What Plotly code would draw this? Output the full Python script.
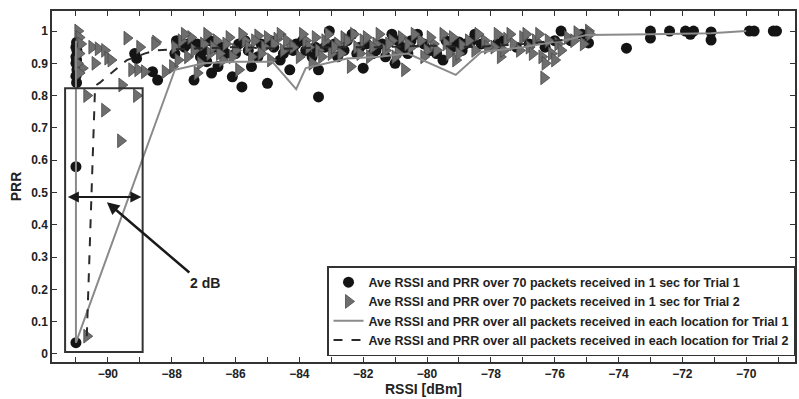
import plotly.graph_objects as go

# ---------------- data ----------------
t1_x = [-91.0, -91.0, -90.98, -91.0, -90.97, -91.0, -90.98, -91.0, -90.97, -91.0, -90.98,
        -89.16, -89.1, -88.6, -88.44, -87.85, -87.6, -87.3, -87.2, -87.0, -86.9, -86.75,
        -86.6, -86.55, -86.3, -86.1, -85.9, -85.8, -85.6, -85.5, -85.2, -85.0, -84.8,
        -84.5, -84.3, -84.1, -83.8, -83.5, -83.4, -83.4, -83.06, -82.9, -82.9, -82.6,
        -82.35, -82.1, -82.0, -81.7, -81.4, -81.1, -81.0, -80.8, -80.5, -80.3, -79.9,
        -79.5, -79.2, -79.0, -78.8, -78.6, -78.5, -77.8, -76.3, -75.8, -75.5, -75.15,
        -74.94, -73.75, -73.0, -73.0, -72.4, -71.9, -71.75, -71.65, -71.1, -71.1,
        -69.9, -69.75, -69.15, -69.05,
        -87.9, -87.5, -87.1, -86.8, -86.4, -86.0, -85.7, -85.3, -84.9, -84.6, -84.2,
        -83.9, -83.6, -83.2, -82.8, -82.5, -82.2, -81.9, -81.6, -81.3, -80.9, -80.6,
        -80.1, -79.7, -79.4, -78.9, -78.3, -77.6, -77.2, -76.8, -76.0]
t1_y = [0.035, 0.58, 0.84, 0.86, 0.88, 0.90, 0.91, 0.92, 0.94, 0.95, 0.965,
        0.93, 0.915, 0.874, 0.848, 0.97, 0.95, 0.848, 0.96, 0.94, 0.905, 0.87,
        0.95, 0.89, 0.93, 0.858, 0.96, 0.827, 0.94, 0.89, 0.96, 0.838, 0.95,
        0.93, 0.88, 0.96, 0.94, 0.95, 0.88, 0.796, 1.0, 0.96, 0.214, 0.94,
        0.99, 0.95, 0.885, 0.93, 0.96, 0.99, 0.90, 0.95, 0.97, 0.99, 0.94,
        0.91, 0.95, 0.966, 0.96, 0.97, 0.99, 0.96, 0.95, 1.0, 0.97, 0.99,
        0.963, 0.947, 1.0, 0.978, 1.0, 1.0, 0.99, 1.0, 0.997, 0.972,
        1.0, 1.0, 1.0, 1.0,
        0.93, 0.96, 0.92, 0.97, 0.95, 0.93, 0.97, 0.92, 0.97, 0.91, 0.94,
        0.97, 0.92, 0.95, 0.92, 0.97, 0.93, 0.96, 0.94, 0.92, 0.97, 0.93,
        0.96, 0.93, 0.97, 0.94, 0.96, 0.97, 0.95, 0.96, 0.97]

t2_x = [-90.94, -90.9, -90.85, -90.9, -90.8, -90.95, -90.9, -90.5, -90.3, -90.1, -90.0,
        -89.9, -90.4, -90.66, -90.1, -89.6, -89.56, -89.4, -89.0, -88.5, -88.53, -89.25,
        -89.06, -88.85, -89.1, -88.2, -87.97, -90.66,
        -87.9, -87.7, -87.5, -87.4, -87.1, -87.0, -86.8, -86.6, -86.4, -86.2, -86.0,
        -85.9, -85.7, -85.5, -85.3, -85.1, -84.9, -84.7, -84.5, -84.3, -84.0, -83.8,
        -83.6, -83.4, -83.2, -83.0, -82.8, -82.6, -82.4, -82.2, -82.0, -81.8, -81.6,
        -81.3, -81.1, -80.9, -80.7, -80.5, -80.2, -80.0, -79.8, -79.5, -79.3, -79.1,
        -78.9, -78.5, -78.2, -77.9, -77.7, -77.5, -77.3, -77.0, -76.8, -76.6, -76.4,
        -76.3, -76.34, -76.1, -75.9, -75.6, -75.3, -74.94, -74.9,
        -87.8, -87.6, -87.3, -87.2, -86.9, -86.7, -86.5, -86.3, -86.1, -85.8, -85.6,
        -85.4, -85.2, -85.0, -84.8, -84.6, -84.4, -84.2, -83.9, -83.7, -83.5, -83.3,
        -83.1, -82.9, -82.7, -82.5, -82.3, -82.1, -81.9, -81.7, -81.5, -81.2, -81.0,
        -80.8, -80.6, -80.4, -80.1, -79.9, -79.7, -79.4, -79.2, -79.0, -78.7, -78.4,
        -78.1, -77.8, -77.6, -77.4, -77.1, -76.9, -76.7, -76.5, -76.2, -76.0, -75.8,
        -75.4, -75.1]
t2_y = [1.0, 0.98, 0.96, 0.93, 0.885, 0.90, 0.87, 0.95, 0.945, 0.94, 0.916,
        0.91, 0.90, 0.80, 0.755, 0.66, 0.833, 0.978, 0.95, 0.966, 0.96, 0.88,
        0.88, 0.874, 0.80, 0.874, 0.89, 0.055,
        0.95, 0.97, 0.92, 0.98, 0.90, 0.96, 0.93, 0.97, 0.91, 0.98, 0.94,
        0.88, 0.97, 0.92, 0.985, 0.95, 0.91, 0.975, 0.94, 0.96, 0.92, 0.97,
        0.90, 0.94, 0.97, 0.93, 0.96, 0.98, 0.89, 0.95, 0.97, 0.92, 0.96,
        0.94, 0.97, 0.93, 0.88, 0.95, 0.97, 0.94, 0.96, 0.99, 0.93, 0.91,
        0.955, 0.94, 0.97, 0.95, 0.92, 0.975, 0.96, 0.98, 0.95, 0.97, 0.92,
        0.90, 0.855, 0.93, 0.96, 0.98, 0.995, 1.0, 0.99,
        0.91, 0.99, 0.94, 0.87, 0.99, 0.95, 0.93, 0.96, 0.92, 0.99, 0.95,
        0.97, 0.93, 0.98, 0.96, 0.99, 0.97, 0.95, 0.99, 0.95, 0.98, 0.92,
        0.99, 0.95, 0.93, 0.97, 0.99, 0.93, 0.98, 0.95, 0.99, 0.96, 0.92,
        0.98, 0.96, 0.99, 0.92, 0.98, 0.94, 0.96, 0.98, 0.93, 0.97, 0.99,
        0.95, 0.99, 0.94, 0.99, 0.94, 0.99, 0.93, 0.99, 0.97, 0.91, 0.94,
        0.97, 0.96]

loc1_x = [-91.0, -91.0, -87.9, -87.0, -86.0, -84.85, -84.1, -83.8, -82.5, -81.5,
          -80.6, -79.1, -78.3, -77.0, -75.5, -75.0, -73.0, -71.1, -70.0]
loc1_y = [0.97, 0.035, 0.88, 0.90, 0.905, 0.905, 0.82, 0.885, 0.915, 0.92,
          0.93, 0.864, 0.935, 0.95, 0.975, 0.988, 0.99, 0.993, 1.0]

loc2_x = [-90.66, -90.4, -90.25, -89.9, -89.4, -88.85, -88.5, -87.5, -86.0, -84.5,
          -83.0, -81.5, -80.0, -78.5, -77.0, -75.5]
loc2_y = [0.055, 0.83, 0.84, 0.87, 0.91, 0.93, 0.94, 0.945, 0.95, 0.945,
          0.95, 0.95, 0.955, 0.95, 0.96, 0.975]

x_tick_vals = list(range(-91, -68))
x_tick_text = [("−%d" % -v) if v % 2 == 0 else "" for v in x_tick_vals]
y_tick_vals = [0, 0.1, 0.2, 0.3, 0.4, 0.5, 0.6, 0.7, 0.8, 0.9, 1.0]
y_tick_text = ["0", "0.1", "0.2", "0.3", "0.4", "0.5", "0.6", "0.7", "0.8", "0.9", "1"]

names = ["Ave RSSI and PRR over 70 packets received in 1 sec for Trial 1",
         "Ave RSSI and PRR over 70 packets received in 1 sec for Trial 2",
         "Ave RSSI and PRR over all packets received in each location for Trial 1",
         "Ave RSSI and PRR over all packets received in each location for Trial 2"]

FONT = "Liberation Sans, Arial, sans-serif"

fig = go.Figure()
fig.add_trace(go.Scatter(x=t1_x, y=t1_y, mode="markers", name=names[0],
                         marker=dict(symbol="circle", size=11, color="#141414",
                                     line=dict(width=0))))
fig.add_trace(go.Scatter(x=t2_x, y=t2_y, mode="markers", name=names[1],
                         marker=dict(symbol="triangle-right", size=12, color="#6e6e6e",
                                     line=dict(width=0.8, color="#4a4a4a"))))
fig.add_trace(go.Scatter(x=loc1_x, y=loc1_y, mode="lines", name=names[2],
                         line=dict(color="#8a8a8a", width=2)))
fig.add_trace(go.Scatter(x=loc2_x, y=loc2_y, mode="lines", name=names[3],
                         line=dict(color="#2a2a2a", width=2, dash="dash")))

# rectangle around low-RSSI region
fig.add_shape(type="rect", x0=-91.34, x1=-88.91, y0=0.006, y1=0.823,
              line=dict(color="#333333", width=2))

# double-headed arrow showing 2 dB width
fig.add_annotation(x=-88.95, y=0.486, ax=-91.3, ay=0.486, axref="x", ayref="y",
                   xref="x", yref="y", text="", showarrow=True,
                   arrowside="end+start", arrowhead=2, arrowsize=1.1,
                   arrowwidth=2, arrowcolor="#1a1a1a")
# pointer arrow
fig.add_annotation(x=-90.03, y=0.47, ax=-87.4, ay=0.248, axref="x", ayref="y",
                   xref="x", yref="y", text="", showarrow=True,
                   arrowhead=2, arrowsize=1, arrowwidth=2.5, arrowcolor="#1a1a1a")
fig.add_annotation(x=-86.97, y=0.22, xref="x", yref="y", text="2 dB",
                   showarrow=False,
                   font=dict(family=FONT, size=14, color="#222", weight="bold"))

fig.update_layout(
    width=799, height=399,
    margin=dict(l=52, r=2, t=11, b=37),
    paper_bgcolor="white", plot_bgcolor="white",
    font=dict(family=FONT, size=12, color="#222"),
    showlegend=True,
    legend=dict(x=1.0, xanchor="right", y=0.017, yanchor="bottom",
                bgcolor="white", bordercolor="#333", borderwidth=1.5,
                font=dict(family=FONT, size=12.5, color="#222", weight="bold"),
                tracegroupgap=0, itemwidth=30),
)
fig.update_xaxes(range=[-91.75, -68.47], tickvals=x_tick_vals, ticktext=x_tick_text,
                 ticks="inside", ticklen=5, tickcolor="#333", showgrid=False,
                 zeroline=False, showline=True, linecolor="#333", linewidth=1.5,
                 mirror="ticks",
                 tickfont=dict(family=FONT, size=12, color="#222", weight="bold"),
                 title=dict(text="RSSI [dBm]", standoff=1,
                            font=dict(family=FONT, size=14, color="#222", weight="bold")))
fig.update_yaxes(range=[-0.025, 1.062], tickvals=y_tick_vals, ticktext=y_tick_text,
                 ticks="inside", ticklen=5, tickcolor="#333", showgrid=False,
                 zeroline=False, showline=True, linecolor="#333", linewidth=1.5,
                 mirror="ticks",
                 tickfont=dict(family=FONT, size=12, color="#222", weight="bold"),
                 title=dict(text="PRR", standoff=6,
                            font=dict(family=FONT, size=14, color="#222", weight="bold")))

fig.write_html("out.html")
